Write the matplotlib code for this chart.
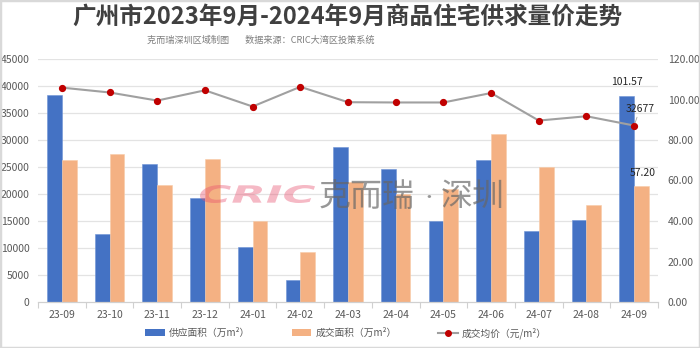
import matplotlib
matplotlib.use("Agg")
import matplotlib.pyplot as plt
from matplotlib.patches import Patch, PathPatch, Rectangle
from matplotlib.lines import Line2D
from matplotlib.textpath import TextPath
from matplotlib.font_manager import FontProperties
from matplotlib.transforms import Affine2D

plt.rcParams['font.family'] = ['Noto Sans CJK SC', 'DejaVu Sans']

months = ['23-09', '23-10', '23-11', '23-12', '24-01', '24-02', '24-03',
          '24-04', '24-05', '24-06', '24-07', '24-08', '24-09']
supply = [102.2, 33.6, 68.3, 51.2, 27.3, 11.0, 76.4, 65.5, 39.8, 70.0, 35.1, 40.6, 101.57]
deal = [70.0, 73.2, 57.6, 70.8, 40.0, 24.8, 59.3, 53.3, 56.0, 83.0, 66.8, 47.7, 57.20]
price = [39700, 38800, 37300, 39200, 36200, 39850, 37000, 36950, 36950, 38700, 33600, 34400, 32677]

title = '广州市2023年9月-2024年9月商品住宅供求量价走势'
subtitle = '克而瑞深圳区域制图        数据来源：CRIC大湾区投策系统'
legend_labels = ['供应面积（万m²）', '成交面积（万m²）', '成交均价（元/m²）']

BLUE = '#4472C4'
ORANGE = '#F4B183'
GRID = '#E3E3E3'
TXT = '#595959'

W, H = 700, 348
fig = plt.figure(figsize=(W / 100, H / 100), dpi=100)
fig.patch.set_facecolor('white')

# frame around the whole figure
fig.add_artist(Rectangle((0, 0), 1, 1, transform=fig.transFigure, fill=False,
                         edgecolor='#D9D9D9', linewidth=2.5, zorder=10))

ax = fig.add_axes([38 / W, 1 - 302 / H, 620 / W, 243 / H])
ax2 = ax.twinx()
x = list(range(len(months)))
bw = 0.31

# area bars on the right-hand scale
ax.set_ylim(0, 120)
ax.set_xlim(-0.5, len(months) - 0.5)
for v in range(5000, 45001, 5000):
    ax.axhline(v * 120 / 45000, color=GRID, linewidth=0.9, zorder=0)
ax.bar([i - bw / 2 for i in x], supply, width=bw, color=BLUE,
       edgecolor='#6E93D6', linewidth=0.4, zorder=2)
ax.bar([i + bw / 2 for i in x], deal, width=bw, color=ORANGE,
       edgecolor='#F8CBA8', linewidth=0.4, zorder=2)

ax.yaxis.tick_right()
ax.set_yticks(range(0, 121, 20))
ax.set_yticklabels([f'{v:.2f}' for v in range(0, 121, 20)])
ax.tick_params(axis='y', length=0, labelsize=7.5, labelcolor=TXT, pad=7)
ax.set_xticks(x)
ax.set_xticklabels(months)
ax.tick_params(axis='x', length=0, labelsize=7.5, labelcolor=TXT, pad=6)
ax.set_xticks([i - 0.5 for i in range(len(months) + 1)], minor=True)
ax.tick_params(axis='x', which='minor', length=4, color='#D0D0D0', width=0.8)
for s in ['top', 'left', 'right']:
    ax.spines[s].set_visible(False)
ax.spines['bottom'].set_color('#D0D0D0')
ax.spines['bottom'].set_linewidth(0.9)

# average price line on the left-hand scale
ax2.set_ylim(0, 45000)
ax2.plot(x, price, color='#A0A0A0', linewidth=1.5, marker='o', markersize=4.2,
         markerfacecolor='#C00000', markeredgecolor='#C00000', zorder=5)
ax2.yaxis.tick_left()
ax2.set_yticks(range(0, 45001, 5000))
ax2.set_yticklabels([str(v) for v in range(0, 45001, 5000)])
ax2.tick_params(axis='y', length=0, labelsize=7.5, labelcolor=TXT, pad=6)
for s in ['top', 'left', 'right', 'bottom']:
    ax2.spines[s].set_visible(False)

# value labels for the latest month
last = len(months) - 1
ax.annotate(f'{supply[last]:.2f}', (last - bw / 2, supply[last]), xytext=(0, 7),
            textcoords='offset points', ha='center', va='bottom', fontsize=7.5,
            color='#262626', zorder=6)
ax.annotate(f'{deal[last]:.2f}', (last + bw / 2, deal[last]), xytext=(1, 6),
            textcoords='offset points', ha='center', va='bottom', fontsize=7.5,
            color='#262626', zorder=6)
ax2.annotate(f'{price[last]}', (last, price[last]), xytext=(4, 8),
             textcoords='offset points', ha='center', va='bottom', fontsize=7.5,
             color='#262626', zorder=6,
             arrowprops=dict(arrowstyle='-', color='#A6A6A6', lw=0.6,
                             shrinkA=0, shrinkB=2))

# brand watermark: stretched italic logotype plus Chinese wordmark
tp = TextPath((0, 0), 'CRIC', size=1,
              prop=FontProperties(family='DejaVu Sans', weight='bold', style='italic'))
ext = tp.get_extents()
x0, x1, y0, y1 = 200, 315, 185, 203
tr = (Affine2D().translate(-ext.x0, -ext.y0)
      .scale((x1 - x0) / ext.width, (y1 - y0) / ext.height)
      .translate(x0, H - y1))
fig.add_artist(PathPatch(tp, transform=tr, facecolor='#E8506E', edgecolor='none',
                         alpha=0.4, zorder=8))
for txt, cx, fs in [('克而瑞', 367, 23), ('·', 429, 12), ('深圳', 473, 23)]:
    fig.text(cx / W, 1 - 197 / H, txt, ha='center', va='center',
             fontsize=fs, fontweight='medium', color='#666666', alpha=0.68, zorder=8)

# titles
fig.text(347 / W, 1 - 17 / H, title, ha='center', va='center', fontsize=17,
         fontweight='bold', color='#404040')
fig.text(261 / W, 1 - 40 / H, subtitle, ha='center', va='center', fontsize=6.6,
         color='#7F7F7F')

handles = [Patch(facecolor=BLUE, edgecolor='none'),
           Patch(facecolor=ORANGE, edgecolor='none'),
           Line2D([0], [0], color='#A0A0A0', linewidth=1.5, marker='o',
                  markersize=4, markerfacecolor='#C00000', markeredgecolor='#C00000')]
fig.legend(handles, legend_labels, loc='center', bbox_to_anchor=(346 / W, 1 - 333 / H),
           ncol=3, frameon=False, fontsize=7, handlelength=2.0, handleheight=0.7,
           handletextpad=0.4, columnspacing=4.3, labelcolor=TXT)

fig.savefig('out.png', dpi=100, facecolor='white')
